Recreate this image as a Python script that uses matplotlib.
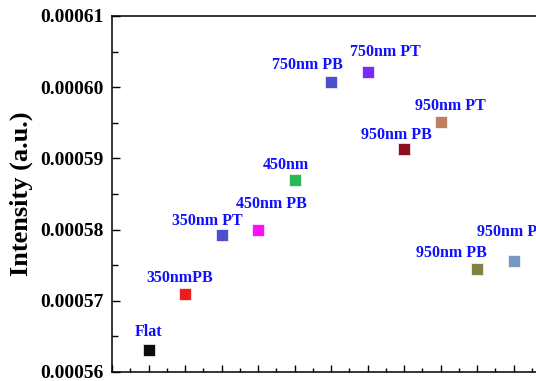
import matplotlib
matplotlib.use("Agg")
import matplotlib.pyplot as plt
from matplotlib.ticker import MultipleLocator, FormatStrFormatter

labels = ["Flat", "350nmPB", "350nm PT", "450nm PB", "450nm", "750nm PB",
          "750nm PT", "950nm PB", "950nm PT", "950nm PB", "950nm PT"]
x_pos = [1, 2, 3, 4, 5, 6, 7, 8, 9, 10, 11]
intensity = [0.0005631, 0.0005710, 0.0005792, 0.0005799, 0.0005870, 0.0006008,
             0.0006022, 0.0005913, 0.0005951, 0.0005745, 0.0005756]
colors = ["#000000", "#ee1111", "#3f48cc", "#ff00ff", "#22b14c", "#3f48cc",
          "#6f1fff", "#880015", "#b97a57", "#7a7a3a", "#7092be"]
# label offsets in pixels (dx, dy) relative to the marker
offsets = [(0, 18), (-5, 16), (-14, 14), (13, 26), (-9, 15), (-24, 17),
           (18, 20), (-8, 14), (10, 16), (-26, 16), (-1, 29)]

W, H = 536, 381
fig = plt.figure(figsize=(W / 100, H / 100), dpi=100)
ax = fig.add_axes([112 / W, 1 - 372 / H, (550 - 112) / W, (372 - 16) / H])

for xi, yi, c in zip(x_pos, intensity, colors):
    ax.plot([xi], [yi], marker="s", linestyle="none", markersize=8.6,
            markerfacecolor=c, markeredgecolor="white", markeredgewidth=0.5,
            alpha=0.95)

for xi, yi, lab, (dx, dy) in zip(x_pos, intensity, labels, offsets):
    ax.annotate(lab, (xi, yi), xytext=(dx * 0.72, dy * 0.72),
                textcoords="offset points", ha="center", va="center",
                color="#1010ff", fontsize=11.5, fontweight="bold",
                family="Liberation Serif")

ax.set_xlim(0, 12)
ax.set_ylim(0.00056, 0.00061)
ax.xaxis.set_major_locator(MultipleLocator(1))
ax.xaxis.set_minor_locator(MultipleLocator(0.5))
ax.yaxis.set_major_locator(MultipleLocator(0.00001))
ax.yaxis.set_minor_locator(MultipleLocator(0.000005))
ax.yaxis.set_major_formatter(FormatStrFormatter("%.5f"))
ax.set_xticklabels([])
ax.tick_params(axis="x", which="major", direction="in", length=5, width=1.0,
               labelbottom=False)
ax.tick_params(axis="x", which="minor", direction="in", length=3, width=1.0)
ax.tick_params(axis="y", which="major", direction="in", length=6, width=1.0,
               pad=6)
ax.tick_params(axis="y", which="minor", direction="in", length=4, width=1.0)
for lab in ax.get_yticklabels():
    lab.set_family("Liberation Serif")
    lab.set_fontweight("bold")
    lab.set_fontsize(14)
for s in ax.spines.values():
    s.set_linewidth(1.1)

ax.set_ylabel("Intensity (a.u.)", family="Liberation Serif", fontweight="bold",
              fontsize=19)
ax.yaxis.set_label_coords(-(112 - 33) / (550 - 112), 0.5)

fig.savefig("out.png", dpi=100)
